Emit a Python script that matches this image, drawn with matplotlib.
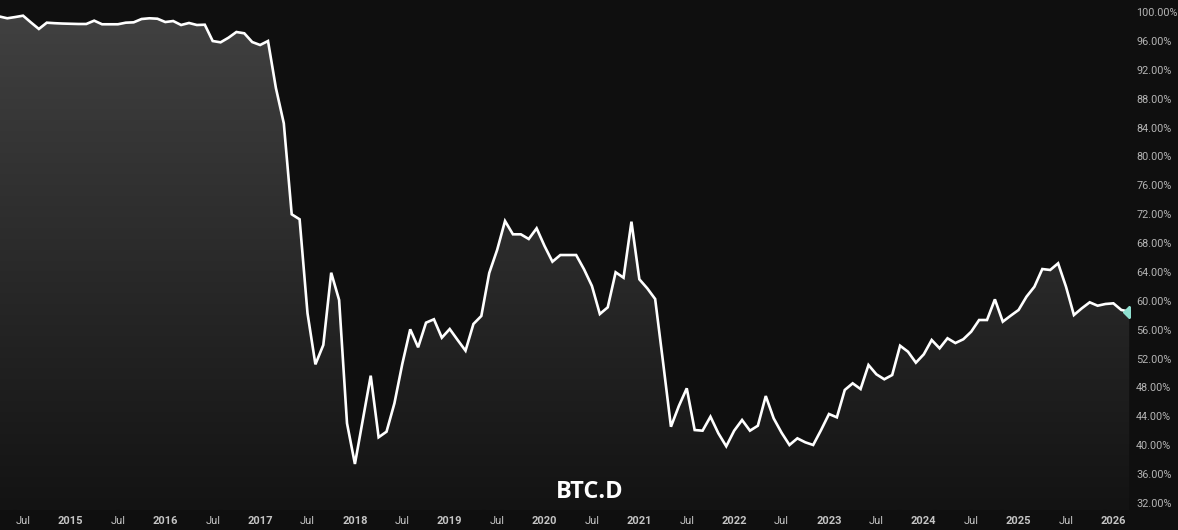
"""
BTC.D monthly dominance chart, TradingView-style dark area chart.
Saves out.png (1178x530).
"""
import numpy as np
import pandas as pd
import matplotlib
matplotlib.use("Agg")
import matplotlib.pyplot as plt
from matplotlib.colors import LinearSegmentedColormap

# monthly closes, Apr 2014 .. Mar 2026
START = "2014-04"
DOMINANCE = [
    99.38, 99.13, 99.30, 99.49, 98.55, 97.65, 98.52, 98.45, 98.40, 98.37,
    98.34, 98.34, 98.80, 98.30, 98.30, 98.30, 98.52, 98.57, 99.03, 99.13,
    99.07, 98.61, 98.75, 98.20, 98.48, 98.20, 98.24, 95.98, 95.80, 96.44,
    97.23, 97.05, 95.84, 95.43, 95.98, 89.47, 84.58, 71.98, 71.29, 58.27,
    51.20, 53.88, 63.89, 60.11, 43.03, 37.40, 43.50, 49.63, 41.10, 41.87,
    45.80, 51.27, 56.05, 53.56, 56.97, 57.44, 54.89, 56.09, 54.57, 53.09,
    56.79, 57.90, 63.85, 67.04, 71.05, 69.21, 69.21, 68.56, 70.04, 67.59,
    65.42, 66.34, 66.34, 66.34, 64.36, 62.05, 58.17, 59.10, 63.95, 63.20,
    70.96, 62.98, 61.73, 60.25, 51.50, 42.56, 45.43, 47.88, 42.10, 42.01,
    43.95, 41.65, 39.85, 42.01, 43.49, 42.01, 42.70, 46.81, 43.72, 41.73,
    40.03, 40.95, 40.40, 40.03, 42.10, 44.32, 43.86, 47.65, 48.57, 47.78,
    51.11, 49.82, 49.13, 49.72, 53.78, 52.95, 51.43, 52.59, 54.57, 53.42,
    54.81, 54.15, 54.67, 55.72, 57.34, 57.34, 60.20, 57.11, 57.94, 58.73,
    60.57, 61.95, 64.40, 64.27, 65.19, 61.95, 58.03, 58.96, 59.79, 59.32,
    59.56, 59.65, 58.73, 58.50,
]
Y_TICKS = list(range(32, 101, 4))
TITLE = "BTC.D"

BG = "#0f0f0f"
TXT = "#b4b4b4"
plt.rcParams["font.family"] = ["Roboto", "DejaVu Sans"]

months = pd.period_range(START, periods=len(DOMINANCE), freq="M")
x = np.arange(len(DOMINANCE))
y = np.array(DOMINANCE)

W, H = 1178, 530
fig = plt.figure(figsize=(W / 100, H / 100), dpi=100, facecolor=BG)
ax = fig.add_axes([0, 20 / H, 1130 / W, 510 / H], facecolor=BG)

ylo, yhi = 100 - 498 / 7.22, 100 + 12 / 7.22
ax.set_xlim(0.08, len(y) - 0.9)
ax.set_ylim(ylo, yhi)

# gradient area fill under the line
poly = ax.fill_between(x, y, ylo, color="none", lw=0)
cmap = LinearSegmentedColormap.from_list("g", ["#131313", "#414141"])
grad = np.linspace(0, 1, 256).reshape(-1, 1)
im = ax.imshow(grad, cmap=cmap, aspect="auto", origin="lower",
               extent=[x[0] - 1, x[-1] + 1, ylo, 100], zorder=1)
im.set_clip_path(poly.get_paths()[0], transform=ax.transData)

ax.plot(x, y, color="white", lw=1.9, zorder=3, solid_joinstyle="miter")
ax.plot(x[-1], y[-1], marker="D", ms=6, color="#8fe0d0", zorder=4,
        clip_on=True)

# axes / ticks
for s in ax.spines.values():
    s.set_visible(False)
ax.yaxis.tick_right()
ax.set_yticks(Y_TICKS)
ax.set_yticklabels([f"{v:.2f}%" for v in Y_TICKS])
ax.tick_params(axis="y", length=0, pad=4.5, labelsize=7.8, labelcolor=TXT)

tick_pos, tick_lab = [], []
for i, p in enumerate(months):
    if p.month == 1:
        tick_pos.append(i); tick_lab.append(str(p.year))
    elif p.month == 7:
        tick_pos.append(i); tick_lab.append("Jul")
ax.set_xticks(tick_pos)
ax.set_xticklabels(tick_lab)
ax.tick_params(axis="x", length=0, pad=4, labelsize=8, labelcolor="#c4c4c4")
for t in ax.get_xticklabels():
    t.set_fontweight("bold" if t.get_text() != "Jul" else "normal")

fig.text(590 / W, 1 - 492 / H, TITLE, ha="center", va="center", color="white",
         fontsize=17, fontweight="bold", family=["Open Sans", "DejaVu Sans"])

fig.savefig("out.png", dpi=100, facecolor=BG)
